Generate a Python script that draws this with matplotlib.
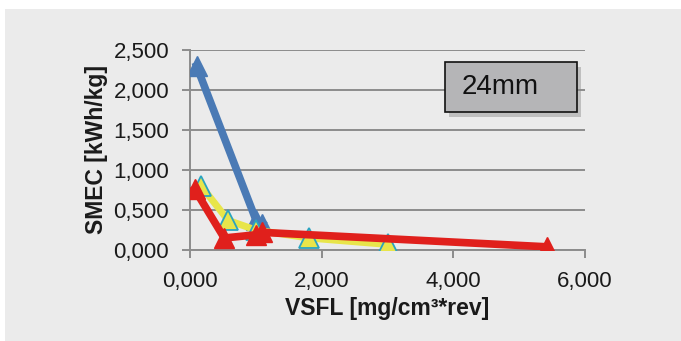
import matplotlib.pyplot as plt
from matplotlib.patches import Rectangle
from matplotlib.ticker import FuncFormatter

plt.rcParams['font.family'] = ['Liberation Sans', 'DejaVu Sans']

# VSFL [mg/cm3*rev] vs SMEC [kWh/kg]
blue_x = [0.10, 1.00, 1.10]
blue_y = [2.30, 0.38, 0.33]

yellow_x = [0.17, 0.58, 1.00, 1.80, 3.00]
yellow_y = [0.80, 0.37, 0.25, 0.15, 0.07]

red_x = [0.07, 0.52, 1.00, 1.10, 5.42]
red_y = [0.76, 0.15, 0.19, 0.22, 0.04]

box_label = "24mm"

bg = '#ebebeb'
fig = plt.figure(figsize=(6.81, 3.41), dpi=100)
fig.patch.set_facecolor('white')
# gray panel behind the chart
fig.patches.append(Rectangle((5 / 681, 0), 1, 1 - 9 / 341, transform=fig.transFigure,
                             facecolor=bg, edgecolor='none', zorder=-10))

ax = fig.add_axes([190 / 681, 1 - 250 / 341, 395 / 681, 200 / 341])
ax.set_facecolor(bg)

ax.plot(blue_x, blue_y, color='#4a7ab5', lw=5.5, marker='^', ms=15,
        markerfacecolor='#4a7ab5', markeredgecolor='#4a7ab5', zorder=3)
ax.plot(yellow_x, yellow_y, color='#e8e54a', lw=5, marker='^', ms=15,
        markerfacecolor='#e8e54a', markeredgecolor='#2aa3c0', markeredgewidth=1.3, zorder=4)
ax.plot(red_x, red_y, color='#e0201c', lw=5.5, marker='^', ms=15,
        markerfacecolor='#e0201c', markeredgecolor='#e0201c', zorder=5)

ax.set_xlim(0, 6)
ax.set_ylim(0, 2.5)
ax.set_xticks([0, 2, 4, 6])
ax.set_yticks([0, 0.5, 1, 1.5, 2, 2.5])
fmt = FuncFormatter(lambda v, p: f"{v:.3f}".replace('.', ','))
ax.xaxis.set_major_formatter(fmt)
ax.yaxis.set_major_formatter(fmt)
ax.grid(axis='y', color='#8c8c8c', lw=1.4)
ax.set_axisbelow(True)
for s in ['top', 'right']:
    ax.spines[s].set_visible(False)
for s in ['left', 'bottom']:
    ax.spines[s].set_color('#8c8c8c')
    ax.spines[s].set_linewidth(1.4)
ax.tick_params(colors='#8c8c8c', width=1.4, length=6, labelsize=16, labelcolor='#1a1a1a')
ax.tick_params(axis='y', pad=9)
ax.tick_params(axis='x', pad=9)

ax.set_xlabel("VSFL [mg/cm³*rev]", fontsize=16.5, fontweight='bold', color='#1a1a1a', labelpad=4)
ax.set_ylabel("SMEC [kWh/kg]", fontsize=16.5, fontweight='bold', color='#1a1a1a', labelpad=4)

# label box with drop shadow
bx, by, bw, bh = 445 / 681, 1 - 112 / 341, 132 / 681, 50 / 341
fig.patches.append(Rectangle((bx + 4 / 681, by - 5 / 341), bw, bh, transform=fig.transFigure,
                             facecolor='#8a8a8a', edgecolor='none', alpha=0.45, zorder=5))
fig.patches.append(Rectangle((bx, by), bw, bh, transform=fig.transFigure,
                             facecolor='#b5b5b7', edgecolor='#111111', lw=1.2, zorder=6))
fig.text(bx + 17 / 681, by + bh / 2, box_label, fontsize=20, va='center', ha='left',
         color='#111111', zorder=7)

fig.savefig('out.png', dpi=100, facecolor=fig.get_facecolor())
